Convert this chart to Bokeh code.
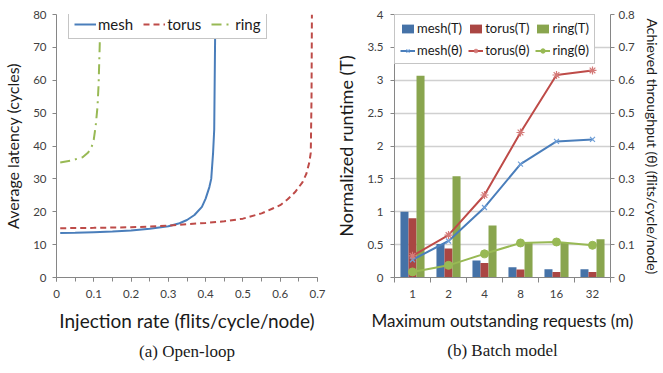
import numpy as np
from bokeh.plotting import figure
from bokeh.layouts import row
from bokeh.models import (ColumnDataSource, Range1d, LinearAxis, FixedTicker, Legend,
                          LegendItem, Title, SingleIntervalTicker)
from bokeh.transform import dodge
from bokeh.embed import file_html
from bokeh.resources import INLINE

# ---------------- data: (a) open-loop ----------------
mesh_x = [0.01, 0.05, 0.10, 0.15, 0.20, 0.25, 0.30, 0.33, 0.35, 0.37, 0.39, 0.40, 0.41, 0.415, 0.42, 0.423, 0.426]
mesh_y = [13.5, 13.6, 13.8, 14.0, 14.3, 14.8, 15.6, 16.5, 17.5, 19.0, 21.5, 24.0, 27.5, 30.0, 38.0, 45.0, 80.0]
torus_x = [0.01, 0.10, 0.20, 0.25, 0.30, 0.35, 0.40, 0.45, 0.50, 0.55, 0.58, 0.60, 0.62, 0.64, 0.66, 0.67, 0.678, 0.682, 0.684, 0.685]
torus_y = [15.0, 15.1, 15.3, 15.5, 15.8, 16.2, 16.6, 17.1, 17.9, 19.5, 21.0, 22.0, 23.8, 26.0, 29.0, 31.5, 35.0, 38.0, 55.0, 80.0]
ring_x = [0.01, 0.04, 0.07, 0.085, 0.095, 0.10, 0.105, 0.11, 0.113, 0.116, 0.117]
ring_y = [35.0, 35.6, 36.6, 38.0, 40.0, 42.0, 46.0, 52.0, 59.0, 71.0, 80.0]

# ---------------- data: (b) batch model ----------------
m_labels = ["1", "2", "4", "8", "16", "32"]
mesh_T = [1.00, 0.51, 0.26, 0.155, 0.125, 0.125]
torus_T = [0.90, 0.44, 0.22, 0.12, 0.085, 0.085]
ring_T = [3.07, 1.54, 0.79, 0.53, 0.53, 0.58]
mesh_th = [0.054, 0.111, 0.213, 0.345, 0.414, 0.420]
torus_th = [0.066, 0.129, 0.251, 0.441, 0.616, 0.630]
ring_th = [0.017, 0.037, 0.072, 0.105, 0.108, 0.098]

FONT = "Lato"
BLUE_L, RED_L, GREEN_L = "#4a7ebb", "#be4b48", "#98b954"
BLUE_B, RED_B, GREEN_B = "#4572a7", "#aa4643", "#89a54e"
AXIS_C = "#868686"
TICK_C = "#404040"


def style_axis(ax, label_size="11.5px", title_size="16px"):
    ax.axis_line_color = AXIS_C
    ax.major_tick_line_color = AXIS_C
    ax.minor_tick_line_color = AXIS_C
    ax.major_tick_in = 0
    ax.major_tick_out = 4
    ax.minor_tick_in = 0
    ax.minor_tick_out = 0
    ax.major_label_text_font = FONT
    ax.major_label_text_font_size = label_size
    ax.major_label_text_color = TICK_C
    ax.axis_label_text_font = FONT
    ax.axis_label_text_font_size = title_size
    ax.axis_label_text_font_style = "normal"
    ax.axis_label_text_color = "#1a1a1a"


# ================= (a) =================
p1 = figure(width=332, height=373, x_range=Range1d(0, 0.7), y_range=Range1d(0, 80),
            output_backend="svg", toolbar_location=None,
            min_border_left=55, min_border_right=15, min_border_top=12, min_border_bottom=96)
p1.outline_line_color = None
p1.grid.visible = False
p1.background_fill_color = "white"

r_mesh = p1.line(mesh_x, mesh_y, line_color=BLUE_L, line_width=2)
r_torus = p1.line(torus_x, torus_y, line_color=RED_L, line_width=2, line_dash="6 4")
r_ring = p1.line(ring_x, ring_y, line_color=GREEN_L, line_width=2, line_dash="10 5 2 5")

p1.xaxis.ticker = FixedTicker(ticks=[0, 0.1, 0.2, 0.3, 0.4, 0.5, 0.6, 0.7],
                              minor_ticks=list(np.round(np.arange(0, 0.701, 0.05), 3)))
p1.yaxis.ticker = SingleIntervalTicker(interval=10, num_minor_ticks=0)
p1.xaxis.major_label_overrides = {0: "0"}
style_axis(p1.xaxis[0], title_size="19px")
style_axis(p1.yaxis[0], title_size="16px")
p1.xaxis.minor_tick_out = 4
p1.xaxis.major_label_standoff = 8
p1.xaxis.axis_label = "Injection rate (flits/cycle/node)"
p1.xaxis.axis_label_standoff = 8
p1.yaxis.axis_label = "Average latency (cycles)"
p1.yaxis.major_label_standoff = 6
p1.yaxis.axis_label_standoff = 8

leg1 = Legend(items=[LegendItem(label="mesh", renderers=[r_mesh]),
                     LegendItem(label="torus", renderers=[r_torus]),
                     LegendItem(label="ring", renderers=[r_ring])],
              orientation="horizontal", location=(12, 238),
              background_fill_color="white", background_fill_alpha=1.0,
              border_line_color="#8c8c8c", border_line_width=1,
              label_text_font=FONT, label_text_font_size="15px", label_text_color="#1a1a1a",
              glyph_width=22, glyph_height=14, label_standoff=2, spacing=10,
              padding=5, margin=0, label_height=14)
p1.add_layout(leg1, "center")
p1.add_layout(Title(text="(a) Open-loop", align="center", text_font="Liberation Serif",
                    text_font_size="17px", text_font_style="normal", text_color="#1a1a1a",
                    standoff=10, offset=-19), "below")

# ================= (b) =================
xi = list(range(1, len(m_labels) + 1))
src = ColumnDataSource(dict(xi=xi, mesh_T=mesh_T, torus_T=torus_T, ring_T=ring_T,
                            mesh_th=mesh_th, torus_th=torus_th, ring_th=ring_th))

p2 = figure(width=331, height=373, x_range=Range1d(0.5, len(m_labels) + 0.5), y_range=Range1d(0, 4),
            output_backend="svg", toolbar_location=None,
            min_border_left=60, min_border_right=47, min_border_top=14, min_border_bottom=91)
p2.extra_y_ranges = {"thr": Range1d(0, 0.8)}
p2.outline_line_color = None
p2.xgrid.visible = False
p2.ygrid.grid_line_color = "#d0d0d0"
p2.ygrid.grid_line_width = 1.3

bw = 0.223
b1 = p2.vbar(x=dodge("xi", -bw, range=p2.x_range), top="mesh_T", width=bw, source=src,
             fill_color=BLUE_B, line_color=None)
b2 = p2.vbar(x=dodge("xi", 0, range=p2.x_range), top="torus_T", width=bw, source=src,
             fill_color=RED_B, line_color=None)
b3 = p2.vbar(x=dodge("xi", bw, range=p2.x_range), top="ring_T", width=bw, source=src,
             fill_color=GREEN_B, line_color=None)

l1 = p2.line("xi", "mesh_th", source=src, y_range_name="thr", line_color=BLUE_L, line_width=2)
s1 = p2.scatter("xi", "mesh_th", source=src, y_range_name="thr", marker="x", size=7,
                line_color="#6f9fd8", line_width=1.2)
l2 = p2.line("xi", "torus_th", source=src, y_range_name="thr", line_color=RED_L, line_width=2)
s2 = p2.scatter("xi", "torus_th", source=src, y_range_name="thr", marker="asterisk", size=8,
                line_color="#d47a78", line_width=1.2)
l3 = p2.line("xi", "ring_th", source=src, y_range_name="thr", line_color=GREEN_L, line_width=2)
s3 = p2.scatter("xi", "ring_th", source=src, y_range_name="thr", marker="circle", size=8,
                fill_color=GREEN_L, line_color=GREEN_L)

p2.xaxis.ticker = FixedTicker(ticks=xi, minor_ticks=[x - 0.5 for x in xi] + [xi[-1] + 0.5])
p2.xaxis.major_label_overrides = {x: lbl for x, lbl in zip(xi, m_labels)}
p2.yaxis.ticker = SingleIntervalTicker(interval=0.5, num_minor_ticks=0)
style_axis(p2.xaxis[0], title_size="17px")
style_axis(p2.yaxis[0], title_size="18px")
p2.xaxis.major_tick_out = 0
p2.xaxis.minor_tick_out = 5
p2.xaxis.major_label_standoff = 7
p2.xaxis.axis_label = "Maximum outstanding requests (m)"
p2.xaxis.axis_label_standoff = 9
p2.yaxis.axis_label = "Normalized runtime (T)"
p2.yaxis.major_label_standoff = 7
p2.yaxis.axis_label_standoff = 7

ax_r = LinearAxis(y_range_name="thr", ticker=SingleIntervalTicker(interval=0.1, num_minor_ticks=0),
                  axis_label="Achieved throughput (θ) (flits/cycle/node)")
style_axis(ax_r, title_size="14px")
ax_r.major_label_standoff = 4
ax_r.axis_label_standoff = 6
ax_r.major_label_overrides = {0: "0"}
p2.add_layout(ax_r, "right")

leg2 = Legend(items=[LegendItem(label="mesh(T)", renderers=[b1]),
                     LegendItem(label="torus(T)", renderers=[b2]),
                     LegendItem(label="ring(T)", renderers=[b3]),
                     LegendItem(label="mesh(θ)", renderers=[l1, s1]),
                     LegendItem(label="torus(θ)", renderers=[l2, s2]),
                     LegendItem(label="ring(θ)", renderers=[l3, s3])],
              orientation="horizontal", ncols=3, location="top_left",
              background_fill_color="white", background_fill_alpha=1.0,
              border_line_color="#8c8c8c", border_line_width=1,
              label_text_font=FONT, label_text_font_size="13px", label_text_color="#1a1a1a",
              glyph_width=15, glyph_height=11, label_standoff=2, spacing=6,
              padding=5, margin=0, label_height=13)
p2.add_layout(leg2, "center")
p2.add_layout(Title(text="(b) Batch model", align="center", text_font="Liberation Serif",
                    text_font_size="17px", text_font_style="normal", text_color="#1a1a1a",
                    standoff=10, offset=-7), "below")

layout = row(p1, p2)
open("out.html", "w").write(file_html(layout, INLINE))
